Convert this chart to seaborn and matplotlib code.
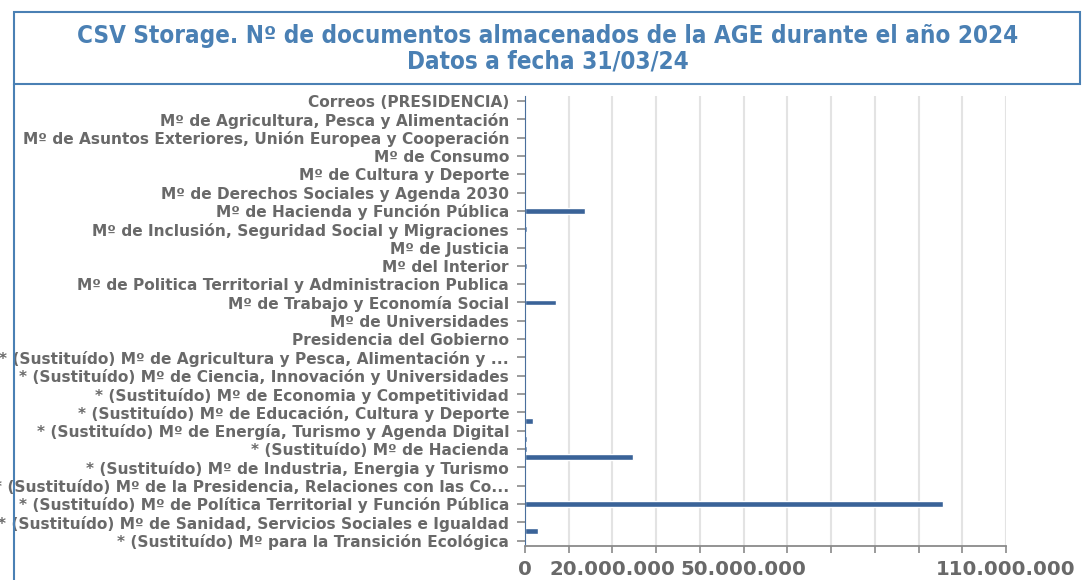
import numpy as np
import pandas as pd
import matplotlib
matplotlib.use("Agg")
import matplotlib.pyplot as plt
from matplotlib.patches import Rectangle
from matplotlib.lines import Line2D
import seaborn as sns

# Organismos (eje Y), en el orden del gráfico
organismos = [
    "Correos (PRESIDENCIA)",
    "Mº de Agricultura, Pesca y Alimentación",
    "Mº de Asuntos Exteriores, Unión Europea y Cooperación",
    "Mº de Consumo",
    "Mº de Cultura y Deporte",
    "Mº de Derechos Sociales y Agenda 2030",
    "Mº de Hacienda y Función Pública",
    "Mº de Inclusión, Seguridad Social y Migraciones",
    "Mº de Justicia",
    "Mº del Interior",
    "Mº de Politica Territorial y Administracion Publica",
    "Mº de Trabajo y Economía Social",
    "Mº de Universidades",
    "Presidencia del Gobierno",
    "* (Sustituído) Mº de Agricultura y Pesca, Alimentación y ...",
    "* (Sustituído) Mº de Ciencia, Innovación y Universidades",
    "* (Sustituído) Mº de Economia y Competitividad",
    "* (Sustituído) Mº de Educación, Cultura y Deporte",
    "* (Sustituído) Mº de Energía, Turismo y Agenda Digital",
    "* (Sustituído) Mº de Hacienda",
    "* (Sustituído) Mº de Industria, Energia y Turismo",
    "* (Sustituído) Mº de la Presidencia, Relaciones con las Co...",
    "* (Sustituído) Mº de Política Territorial y Función Pública",
    "* (Sustituído) Mº de Sanidad, Servicios Sociales e Igualdad",
    "* (Sustituído) Mº para la Transición Ecológica",
]

# Nº de documentos por serie (valores estimados del gráfico)
serie_1 = [0] * 25
serie_2 = [20000, 60000, 80000, 10000, 40000, 30000, 13700000, 500000, 50000, 350000,
           20000, 7000000, 30000, 20000, 0, 0, 0, 0, 0, 350000,
           0, 0, 95500000, 0, 0]
serie_3 = [0, 0, 0, 0, 0, 0, 0, 0, 0, 0,
           0, 150000, 0, 0, 10000, 20000, 10000, 1800000, 500000, 24600000,
           10000, 10000, 0, 3000000, 20000]
series = ["Serie 1", "Serie 2", "Serie 3"]

# ticks del eje X, solo algunos llevan etiqueta
x_ticks = list(range(0, 110000001, 10000000))
x_labels_visibles = [0, 20000000, 50000000, 110000000]

df = pd.DataFrame({"organismo": organismos, series[0]: serie_1,
                   series[1]: serie_2, series[2]: serie_3})
df = df.melt(id_vars="organismo", var_name="serie", value_name="documentos")

sns.set_style("white")
plt.rcParams["font.family"] = ["DejaVu Sans"]

bar_color = "#3a6398"
text_grey = "#696969"
title_blue = "#4a80b4"

fig = plt.figure(figsize=(10.84, 5.8), dpi=100)
ax = fig.add_axes([525 / 1084, 1 - 546 / 580, (1006 - 525) / 1084, (546 - 95.6) / 580])

sns.barplot(data=df, y="organismo", x="documentos", hue="serie", hue_order=series,
            order=organismos, orient="h", palette=[bar_color] * 3, saturation=1,
            width=1.395, gap=0.3, legend=False, ax=ax, errorbar=None)

ax.set_xlim(0, 110000000)
ax.set_ylim(24.3, -0.3)
ax.set_xticks(x_ticks)
ax.set_xticklabels([f"{v:,}".replace(",", ".") if v in x_labels_visibles else "" for v in x_ticks])
ax.set_xlabel("")
ax.set_ylabel("")
ax.grid(axis="x", color="#e3e3e3", linewidth=1.5)
ax.set_axisbelow(True)

for s in ["top", "right"]:
    ax.spines[s].set_visible(False)
ax.spines["bottom"].set_color("#8a8a8a")
ax.spines["left"].set_color("#4a6f9c")
ax.spines["bottom"].set_linewidth(1.3)

ax.tick_params(axis="x", colors="#8a8a8a", length=5, width=1.2, labelcolor=text_grey,
               labelsize=14.2, pad=5, bottom=True)
ax.tick_params(axis="y", colors="#8a8a8a", length=6, width=1.2, labelcolor=text_grey,
               labelsize=11.05, pad=5.5, left=True)
for lbl in ax.get_xticklabels() + ax.get_yticklabels():
    lbl.set_fontweight("bold")

# recuadro del título
fig.add_artist(Rectangle((14 / 1084, 1 - 84 / 580), (1080 - 14) / 1084, (84 - 12) / 580,
                         transform=fig.transFigure, fill=False, edgecolor=title_blue, linewidth=1.5))
fig.add_artist(Line2D([14 / 1084, 14 / 1084], [0, 1 - 84 / 580], transform=fig.transFigure,
                      color=title_blue, linewidth=1.5))
fig.text(548 / 1084, 1 - 36 / 580, "CSV Storage. Nº de documentos almacenados de la AGE durante el año 2024",
         ha="center", va="center", color=title_blue, fontsize=17.4, fontweight="bold",
         fontstretch="condensed")
fig.text(548 / 1084, 1 - 61.5 / 580, "Datos a fecha 31/03/24",
         ha="center", va="center", color=title_blue, fontsize=17.4, fontweight="bold",
         fontstretch="condensed")

fig.savefig("out.png", dpi=100)
